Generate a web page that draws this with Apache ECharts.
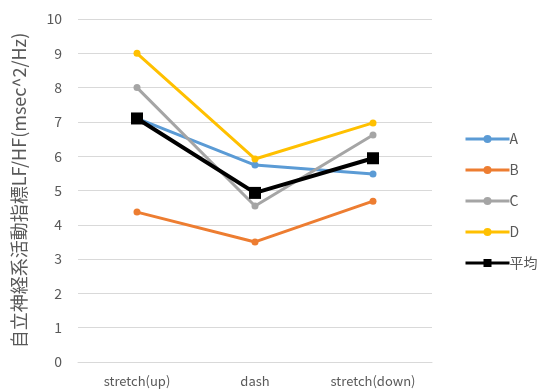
<!DOCTYPE html>
<html>
<head>
<meta charset="utf-8">
<script src="https://cdn.jsdelivr.net/npm/echarts@6/dist/echarts.min.js"></script>
<style>
html,body{margin:0;padding:0;background:#fff;}
#chart{width:547px;height:392px;}
</style>
</head>
<body>
<div id="chart"></div>
<script>
const categories = ['stretch(up)', 'dash', 'stretch(down)'];
const seriesA = [7.1, 5.74, 5.48];
const seriesB = [4.37, 3.5, 4.69];
const seriesC = [8.0, 4.55, 6.62];
const seriesD = [9.0, 5.92, 6.97];
const seriesAvg = [7.1, 4.93, 5.94];
const yTicks = [0, 1, 2, 3, 4, 5, 6, 7, 8, 9, 10];

const font = "'Noto Sans CJK JP', 'Noto Sans', sans-serif";

function lineSeries(name, data, color) {
  return {
    name: name, type: 'line', data: data,
    symbol: 'circle', symbolSize: 7,
    lineStyle: { color: color, width: 3 },
    itemStyle: { color: color },
    z: 2
  };
}

const chart = echarts.init(document.getElementById('chart'), null, { renderer: 'canvas' });
chart.setOption({
  animation: false,
  backgroundColor: '#fff',
  grid: { left: 78, right: 115, top: 19, bottom: 30 },
  xAxis: {
    type: 'category', data: categories, boundaryGap: true,
    axisLine: { show: true, lineStyle: { color: '#d9d9d9', width: 1 } },
    axisTick: { show: false },
    axisLabel: { color: '#595959', fontSize: 13, fontFamily: font, margin: 13 }
  },
  yAxis: {
    type: 'value', min: yTicks[0], max: yTicks[yTicks.length - 1], interval: 1,
    name: '自立神経系活動指標LF/HF(msec^2/Hz)',
    nameLocation: 'middle', nameGap: 50, nameRotate: 90,
    nameTextStyle: { color: '#595959', fontSize: 18, fontFamily: font },
    axisLine: { show: false }, axisTick: { show: false },
    axisLabel: { color: '#595959', fontSize: 14, fontFamily: font, margin: 16 },
    splitLine: { lineStyle: { color: '#d9d9d9', width: 1 } }
  },
  legend: {
    orient: 'vertical', left: 459, top: 127, itemGap: 17,
    itemWidth: 44, itemHeight: 10,
    lineStyle: { width: 3 },
    textStyle: { color: '#595959', fontSize: 14, fontFamily: font, padding: [0, 0, 0, -5] },
    data: ['A', 'B', 'C', 'D', '平均']
  },
  series: [
    lineSeries('A', seriesA, '#5B9BD5'),
    lineSeries('B', seriesB, '#ED7D31'),
    lineSeries('C', seriesC, '#A5A5A5'),
    lineSeries('D', seriesD, '#FFC000'),
    {
      name: '平均', type: 'line', data: seriesAvg,
      symbol: 'rect', symbolSize: 12,
      lineStyle: { color: '#000', width: 4 },
      itemStyle: { color: '#000' },
      z: 3
    }
  ]
});
</script>
</body>
</html>
